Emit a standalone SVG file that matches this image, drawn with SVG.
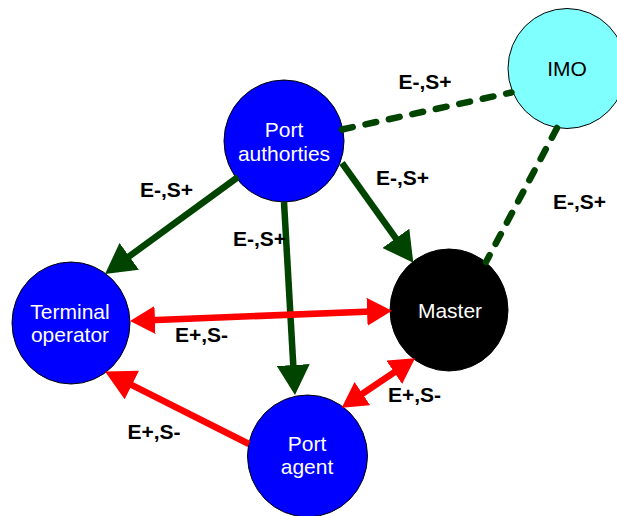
<svg xmlns="http://www.w3.org/2000/svg" width="617" height="516" viewBox="0 0 617 516">
<style>
.node{stroke:#000;stroke-width:1}
.nt{font-family:"Liberation Sans",Arial,sans-serif;font-size:21px;text-anchor:middle}
.lbl{font-family:"Liberation Sans",Arial,sans-serif;font-size:21px;font-weight:bold;text-anchor:middle;fill:#000}
.g{stroke:#004400;stroke-width:6.5;fill:none}
.gd{stroke:#004400;stroke-width:6.5;fill:none;stroke-dasharray:11 13;stroke-linecap:round}
.r{stroke:#ff0000;stroke-width:6.5;fill:none}
</style>
<defs>
<marker id="ag" markerUnits="userSpaceOnUse" markerWidth="30" markerHeight="33" refX="20" refY="16.5" orient="auto"><path d="M0,0 L30,16.5 L0,33 z" fill="#004400"/></marker>
<marker id="ar" markerUnits="userSpaceOnUse" markerWidth="25" markerHeight="28" refX="17" refY="14" orient="auto-start-reverse"><path d="M0,0 L25,14 L0,28 z" fill="#ff0000"/></marker>
<marker id="arL" markerUnits="userSpaceOnUse" markerWidth="30" markerHeight="32" refX="21" refY="16" orient="auto"><path d="M0,0 L30,16 L0,32 z" fill="#ff0000"/></marker>
</defs>
<g id="imo"><ellipse class="node" cx="567" cy="68.5" rx="59" ry="60" fill="#80ffff"/><text class="nt" x="567" y="76" fill="#000">IMO</text></g>
<g id="port-authorities"><ellipse class="node" cx="284" cy="141" rx="60" ry="61" fill="#0000ff"/><text class="nt" x="284" y="137" fill="#fff">Port</text><text class="nt" x="284" y="161" fill="#fff">authorties</text></g>
<g id="terminal-operator"><ellipse class="node" cx="71" cy="323" rx="59" ry="61" fill="#0000ff"/><text class="nt" x="70" y="319" fill="#fff">Terminal</text><text class="nt" x="70" y="342" fill="#fff">operator</text></g>
<g id="master"><ellipse class="node" cx="449" cy="310" rx="59" ry="61" fill="#000"/><text class="nt" x="450" y="318" fill="#fff">Master</text></g>
<g id="port-agent"><ellipse class="node" cx="307.5" cy="456" rx="60" ry="61" fill="#0000ff"/><text class="nt" x="307" y="451" fill="#fff">Port</text><text class="nt" x="307" y="474" fill="#fff">agent</text></g>
<g id="connectors">
<line class="gd" x1="342" y1="129.5" x2="511.5" y2="92.5"/>
<line class="gd" x1="557" y1="128" x2="486" y2="262"/>
<line class="g" x1="238" y1="177" x2="113.1" y2="268.1" marker-end="url(#ag)"/>
<line class="g" x1="284" y1="202" x2="294.4" y2="385" marker-end="url(#ag)"/>
<line class="g" x1="342" y1="163" x2="407.5" y2="254.6" marker-end="url(#ag)"/>
<line class="r" x1="138" y1="320.7" x2="384" y2="311" marker-start="url(#ar)" marker-end="url(#ar)"/>
<line class="r" x1="408.4" y1="362.8" x2="348.3" y2="403.2" marker-start="url(#ar)" marker-end="url(#ar)"/>
<line class="r" x1="249" y1="444" x2="113.1" y2="375.6" marker-end="url(#arL)"/>
</g>
<g id="labels">
<text class="lbl" x="425" y="88.5">E-,S+</text>
<text class="lbl" x="402.5" y="185">E-,S+</text>
<text class="lbl" x="166.5" y="197">E-,S+</text>
<text class="lbl" x="259.5" y="246">E-,S+</text>
<text class="lbl" x="579.5" y="209">E-,S+</text>
<text class="lbl" x="201.5" y="342">E+,S-</text>
<text class="lbl" x="414.5" y="402">E+,S-</text>
<text class="lbl" x="154" y="439">E+,S-</text>
</g>
</svg>
